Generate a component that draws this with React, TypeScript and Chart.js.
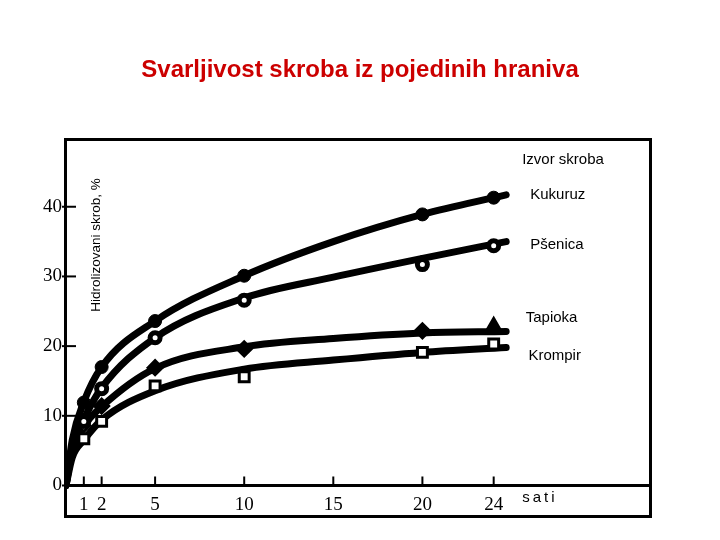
import React, { useEffect, useRef } from 'react';
import { Chart, registerables } from 'chart.js';

Chart.register(...registerables);

// ---- text ----
const chartTitle = 'Svarljivost skroba iz pojedinih hraniva';
const yAxisTitle = 'Hidrolizovani skrob, %';
const legendTitle = 'Izvor skroba';
const xUnit = 'sati';
const seriesNames = ['Kukuruz', 'Pšenica', 'Tapioka', 'Krompir'];

// ---- ticks ----
const xTickValues = [1, 2, 5, 10, 15, 20, 24];
const yTickValues = [0, 10, 20, 30, 40];

// ---- measured points (markers) ----
const markerHours = [1, 2, 5, 10, 20, 24];
const kukuruzPoints = [11.9, 17.0, 23.6, 30.1, 38.9, 41.3];
const psenicaPoints = [9.2, 13.9, 21.2, 26.6, 31.7, 34.4];
const tapiokaPoints = [8.6, 11.4, 16.9, 19.6, 22.2, 22.9];
const krompirPoints = [6.7, 9.2, 14.3, 15.6, 19.1, 20.3];

// ---- fitted curves ----
const curveHours = [0, 0.35, 1, 2, 5, 10, 15, 20, 24.7];
const kukuruzCurve = [0, 6.5, 12.0, 17.0, 23.6, 30.1, 35.0, 38.9, 41.7];
const psenicaCurve = [0, 5.5, 9.5, 14.0, 21.2, 26.9, 29.9, 32.6, 35.0];
const tapiokaCurve = [0, 5.0, 8.5, 11.3, 16.8, 19.9, 21.1, 21.9, 22.1];
const krompirCurve = [0, 4.0, 6.5, 9.4, 13.6, 16.7, 18.0, 19.1, 19.8];

// ---- layout (positions in data units, not data) ----
const X_MIN = 0;
const X_MAX = 32.8;
const Y_MIN = -4.45;
const Y_MAX = 49.65;
const seriesLabelAnchors = [
  { x: 26.05, y: 41.7 },
  { x: 26.05, y: 34.6 },
  { x: 25.8, y: 24.0 },
  { x: 25.95, y: 18.6 },
];
const legendTitleAnchor = { x: 25.6, y: 46.7 };
const unitAnchor = { x: 25.6, y: -1.8 };
const yTitleAnchor = { x: 1.7, y: 34.5 };

const SANS = "'Liberation Sans', Arial, sans-serif";
const SERIF = "'Liberation Serif', 'Times New Roman', serif";

const decorPlugin = {
  id: 'decor',
  afterDatasetsDraw(chart: any) {
    const { ctx, chartArea: ca, scales } = chart;
    const xs = scales.x;
    const ys = scales.y;
    ctx.save();
    ctx.strokeStyle = '#000';
    ctx.fillStyle = '#000';
    // frame
    ctx.lineWidth = 3;
    ctx.strokeRect(ca.left - 0.5, ca.top, ca.right - ca.left + 0.5, ca.bottom - ca.top);
    // y ticks crossing frame
    ctx.lineWidth = 2;
    yTickValues.forEach((v) => {
      const py = ys.getPixelForValue(v);
      ctx.beginPath();
      ctx.moveTo(ca.left - 4, py);
      ctx.lineTo(ca.left + 10, py);
      ctx.stroke();
    });
    // x ticks pointing up from the zero line
    const y0 = ys.getPixelForValue(0);
    xTickValues.forEach((v) => {
      const px = xs.getPixelForValue(v);
      ctx.beginPath();
      ctx.moveTo(px, y0);
      ctx.lineTo(px, y0 - 9);
      ctx.stroke();
    });
    // y axis title (inside plot)
    ctx.save();
    ctx.translate(xs.getPixelForValue(yTitleAnchor.x), ys.getPixelForValue(yTitleAnchor.y));
    ctx.rotate(-Math.PI / 2);
    ctx.font = `13.5px ${SANS}`;
    ctx.textAlign = 'center';
    ctx.textBaseline = 'middle';
    ctx.fillText(yAxisTitle, 0, 0);
    ctx.restore();
    // legend labels
    ctx.font = `15px ${SANS}`;
    ctx.textAlign = 'left';
    ctx.textBaseline = 'middle';
    ctx.fillText(legendTitle, xs.getPixelForValue(legendTitleAnchor.x), ys.getPixelForValue(legendTitleAnchor.y));
    seriesNames.forEach((name, i) => {
      const a = seriesLabelAnchors[i];
      ctx.fillText(name, xs.getPixelForValue(a.x), ys.getPixelForValue(a.y));
    });
    // unit
    (ctx as any).letterSpacing = '3px';
    ctx.font = `15px ${SANS}`;
    ctx.fillText(xUnit, xs.getPixelForValue(unitAnchor.x), ys.getPixelForValue(unitAnchor.y));
    (ctx as any).letterSpacing = '0px';
    // chart title, centred on the page
    ctx.font = `bold 24px ${SANS}`;
    ctx.fillStyle = '#CC0000';
    ctx.textAlign = 'center';
    ctx.textBaseline = 'middle';
    ctx.fillText(chartTitle, chart.width / 2, 70);
    ctx.restore();
  },
};

export default function App() {
  const ref = useRef<HTMLCanvasElement | null>(null);
  useEffect(() => {
    if (!ref.current) return;
    const curves = [kukuruzCurve, psenicaCurve, tapiokaCurve, krompirCurve];
    const points = [kukuruzPoints, psenicaPoints, tapiokaPoints, krompirPoints];
    const markerStyles: any[] = [
      { pointStyle: 'circle', pointRadius: 6.5, pointBackgroundColor: '#000', pointBorderWidth: 1 },
      { pointStyle: 'circle', pointRadius: 5, pointBackgroundColor: '#fff', pointBorderWidth: 5 },
      {
        pointStyle: ['rectRot', 'rectRot', 'rectRot', 'rectRot', 'rectRot', 'triangle'],
        pointRadius: [6, 7, 7, 7, 7, 7.5],
        pointBackgroundColor: ['#fff', '#000', '#000', '#000', '#000', '#000'],
        pointBorderWidth: 3,
      },
      { pointStyle: 'rect', pointRadius: 7, pointBackgroundColor: '#fff', pointBorderWidth: 3 },
    ];
    const datasets: any[] = [];
    points.forEach((p, i) => {
      datasets.push({
        label: seriesNames[i],
        data: markerHours.map((h, j) => ({ x: h, y: p[j] })),
        showLine: false,
        pointBorderColor: '#000',
        order: 0,
        ...markerStyles[i],
      });
    });
    curves.forEach((c, i) => {
      datasets.push({
        label: seriesNames[i] + ' (krivulja)',
        data: curveHours.map((h, j) => ({ x: h, y: c[j] })),
        showLine: true,
        borderColor: '#000',
        borderWidth: 7,
        pointRadius: 0,
        cubicInterpolationMode: 'monotone',
        borderCapStyle: 'round',
        order: 1,
      });
    });

    const chart = new Chart(ref.current, {
      type: 'scatter',
      data: { datasets },
      options: {
        animation: false,
        responsive: false,
        layout: { padding: { left: 0, right: 69.5, top: 139.5, bottom: 23.5 } },
        plugins: {
          legend: { display: false },
          tooltip: { enabled: false },
          title: { display: false },
        },
        scales: {
          x: {
            type: 'linear',
            min: X_MIN,
            max: X_MAX,
            position: { y: 0 } as any,
            grid: { display: false, drawTicks: false },
            border: { display: true, color: '#000', width: 3 },
            afterBuildTicks: (s: any) => {
              s.ticks = xTickValues.map((v) => ({ value: v }));
            },
            ticks: {
              autoSkip: false,
              maxRotation: 0,
              color: '#000',
              padding: 8.5,
              font: { family: SERIF, size: 19 },
            },
          },
          y: {
            type: 'linear',
            min: Y_MIN,
            max: Y_MAX,
            position: 'left',
            grid: { display: false, drawTicks: false },
            border: { display: false },
            afterBuildTicks: (s: any) => {
              s.ticks = yTickValues.map((v) => ({ value: v }));
            },
            afterFit: (s: any) => {
              s.width = 66;
            },
            ticks: {
              color: '#000',
              padding: 4,
              font: { family: SERIF, size: 19 },
            },
          },
        },
      } as any,
      plugins: [decorPlugin],
    });
    return () => chart.destroy();
  }, []);

  return (
    <div style={{ position: 'fixed', left: 0, top: 0, width: 720, height: 540, background: '#fff' }}>
      <canvas ref={ref} width={720} height={540} style={{ display: 'block', width: 720, height: 540 }} />
    </div>
  );
}
